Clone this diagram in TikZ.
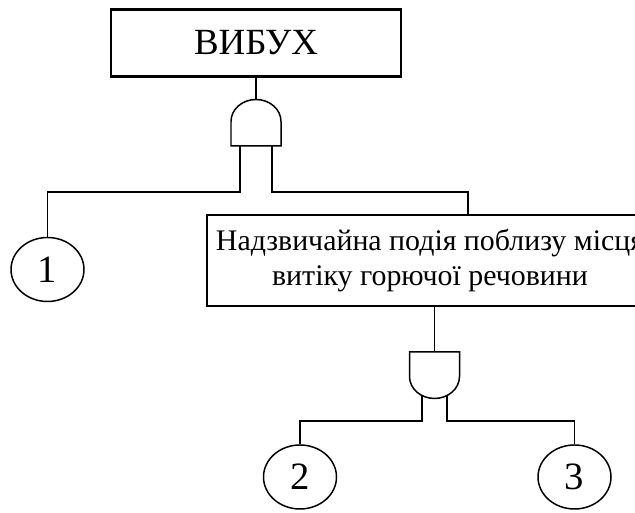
\documentclass[tikz,border=0pt]{standalone}
\usepackage{fontspec}
\setmainfont{Liberation Serif}
\usepackage{tikz}
\usetikzlibrary{positioning,calc,shapes.geometric}
\tikzset{
  topev/.style ={draw, rectangle, line width=1.7pt, minimum width=5.80cm, minimum height=1.34cm, font=\fontsize{21}{24}\selectfont},
  midev/.style ={draw, rectangle, line width=0.85pt, align=center, minimum width=8.92cm, minimum height=1.82cm, font=\fontsize{17}{20}\selectfont},
  basic/.style ={draw, ellipse, line width=0.85pt, minimum width=1.46cm, minimum height=1.28cm, inner sep=0pt, font=\fontsize{22}{24}\selectfont},
  wire/.style  ={line width=0.85pt},
  andgate/.pic ={
    \draw[wire, fill=white] (-0.5,0) -- (-0.5,0.49)
      arc[start angle=180, end angle=0, x radius=0.5, y radius=0.44] -- (0.5,0) -- cycle;
    \coordinate (-flat) at (0,0);
    \coordinate (-dome) at (0,0.93);
    \coordinate (-fl) at (-0.32,0);
    \coordinate (-fr) at (0.32,0);
    \coordinate (-dl) at (-0.25,0.871);
    \coordinate (-dr) at (0.25,0.871);
  },
}

\begin{document}
\begin{tikzpicture}
  \clip (0,0) rectangle (12.70,10.26);
  % events
  \node[topev] (top) at (5.12,9.40) {ВИБУХ};
  \node[midev] (mid) at (8.60,5.05) {Надзвичайна подія поблизу місця\\витіку горючої речовини};
  \node[basic] (e1) at (0.95,4.87)  {1};
  \node[basic] (e2) at (6.00,0.72)  {2};
  \node[basic] (e3) at (11.49,0.72) {3};

  % gates
  \pic (g1) at (5.12,7.34) {andgate};
  \pic[yscale=-1] (g2) at (8.69,3.22) {andgate};

  \draw[wire] (top) -- (g1-dome);
  \draw[wire] (g1-fl) -- ++(0,-0.92) -| (e1);
  \draw[wire] (g1-fr) -- ++(0,-0.92) -| ([xshift=0.76cm]mid.north);

  \draw[wire] (mid.south -| g2-flat) -- (g2-flat);
  \draw[wire] (g2-dl) -- ++(0,-0.51) -| (e2);
  \draw[wire] (g2-dr) -- ++(0,-0.51) -| (e3);
\end{tikzpicture}
\end{document}
